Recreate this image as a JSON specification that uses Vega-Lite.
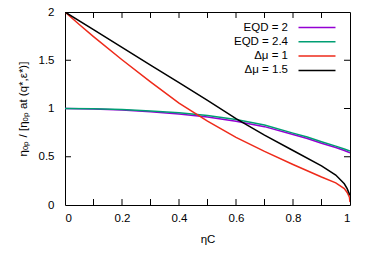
{
  "$schema": "https://vega.github.io/schema/vega-lite/v6.json",
  "width": 285,
  "height": 193,
  "autosize": {"type": "none"},
  "padding": {"left": 65, "top": 12, "right": 24, "bottom": 56},
  "background": "white",
  "config": {
    "view": {"stroke": "black", "strokeWidth": 1},
    "font": "Liberation Sans",
    "axis": {
      "grid": false,
      "domain": false,
      "ticks": true,
      "tickSize": 0,
      "labelFont": "Liberation Sans",
      "labelFontSize": 11.5,
      "labelColor": "black",
      "titleFont": "Liberation Sans",
      "titleFontSize": 11.5,
      "titleFontWeight": "normal",
      "titleColor": "black"
    }
  },
  "datasets": {
    "xt": [{"v": 0.1}, {"v": 0.2}, {"v": 0.3}, {"v": 0.4}, {"v": 0.5}, {"v": 0.6}, {"v": 0.7}, {"v": 0.8}, {"v": 0.9}],
    "yt": [{"v": 0.5}, {"v": 1.0}, {"v": 1.5}]
  },
  "data": {"values": [
    {"s": "EQD = 2", "x": 0, "y": 1.0},
    {"s": "EQD = 2", "x": 0.1, "y": 0.996},
    {"s": "EQD = 2", "x": 0.2, "y": 0.984},
    {"s": "EQD = 2", "x": 0.3, "y": 0.966},
    {"s": "EQD = 2", "x": 0.4, "y": 0.942},
    {"s": "EQD = 2", "x": 0.5, "y": 0.911},
    {"s": "EQD = 2", "x": 0.6, "y": 0.869},
    {"s": "EQD = 2", "x": 0.7, "y": 0.812},
    {"s": "EQD = 2", "x": 0.8, "y": 0.73},
    {"s": "EQD = 2", "x": 0.85, "y": 0.69},
    {"s": "EQD = 2", "x": 0.9, "y": 0.64},
    {"s": "EQD = 2", "x": 0.95, "y": 0.595},
    {"s": "EQD = 2", "x": 0.98, "y": 0.565},
    {"s": "EQD = 2", "x": 1, "y": 0.54},
    {"s": "EQD = 2.4", "x": 0, "y": 1.0},
    {"s": "EQD = 2.4", "x": 0.1, "y": 0.998},
    {"s": "EQD = 2.4", "x": 0.2, "y": 0.99},
    {"s": "EQD = 2.4", "x": 0.3, "y": 0.975},
    {"s": "EQD = 2.4", "x": 0.4, "y": 0.955},
    {"s": "EQD = 2.4", "x": 0.5, "y": 0.928},
    {"s": "EQD = 2.4", "x": 0.6, "y": 0.886},
    {"s": "EQD = 2.4", "x": 0.7, "y": 0.83},
    {"s": "EQD = 2.4", "x": 0.8, "y": 0.745},
    {"s": "EQD = 2.4", "x": 0.85, "y": 0.705},
    {"s": "EQD = 2.4", "x": 0.9, "y": 0.656},
    {"s": "EQD = 2.4", "x": 0.95, "y": 0.61},
    {"s": "EQD = 2.4", "x": 0.98, "y": 0.58},
    {"s": "EQD = 2.4", "x": 1, "y": 0.56},
    {"s": "Δμ = 1", "x": 0, "y": 2.0},
    {"s": "Δμ = 1", "x": 0.05, "y": 1.87},
    {"s": "Δμ = 1", "x": 0.1, "y": 1.745},
    {"s": "Δμ = 1", "x": 0.2, "y": 1.505},
    {"s": "Δμ = 1", "x": 0.3, "y": 1.275},
    {"s": "Δμ = 1", "x": 0.4, "y": 1.055},
    {"s": "Δμ = 1", "x": 0.5, "y": 0.87},
    {"s": "Δμ = 1", "x": 0.6, "y": 0.7},
    {"s": "Δμ = 1", "x": 0.7, "y": 0.555},
    {"s": "Δμ = 1", "x": 0.8, "y": 0.42},
    {"s": "Δμ = 1", "x": 0.9, "y": 0.29},
    {"s": "Δμ = 1", "x": 0.95, "y": 0.23},
    {"s": "Δμ = 1", "x": 0.98, "y": 0.17},
    {"s": "Δμ = 1", "x": 0.99, "y": 0.13},
    {"s": "Δμ = 1", "x": 0.998, "y": 0.08},
    {"s": "Δμ = 1", "x": 1, "y": 0.03},
    {"s": "Δμ = 1.5", "x": 0, "y": 2.0},
    {"s": "Δμ = 1.5", "x": 0.1, "y": 1.817},
    {"s": "Δμ = 1.5", "x": 0.2, "y": 1.634},
    {"s": "Δμ = 1.5", "x": 0.3, "y": 1.45},
    {"s": "Δμ = 1.5", "x": 0.4, "y": 1.267},
    {"s": "Δμ = 1.5", "x": 0.5, "y": 1.085},
    {"s": "Δμ = 1.5", "x": 0.6, "y": 0.895},
    {"s": "Δμ = 1.5", "x": 0.7, "y": 0.725},
    {"s": "Δμ = 1.5", "x": 0.8, "y": 0.565},
    {"s": "Δμ = 1.5", "x": 0.9, "y": 0.405},
    {"s": "Δμ = 1.5", "x": 0.95, "y": 0.31},
    {"s": "Δμ = 1.5", "x": 0.98, "y": 0.22},
    {"s": "Δμ = 1.5", "x": 0.99, "y": 0.17},
    {"s": "Δμ = 1.5", "x": 1, "y": 0.1}
  ]},
  "layer": [
    {
      "data": {"name": "xt"},
      "mark": {"type": "rule", "color": "black", "strokeWidth": 1},
      "encoding": {
        "x": {"field": "v", "type": "quantitative", "title": "ηC"},
        "y": {"datum": 0, "type": "quantitative"},
        "y2": {"datum": 0.062}
      }
    },
    {
      "data": {"name": "xt"},
      "mark": {"type": "rule", "color": "black", "strokeWidth": 1},
      "encoding": {
        "x": {"field": "v", "type": "quantitative", "title": "ηC"},
        "y": {"datum": 2, "type": "quantitative"},
        "y2": {"datum": 1.938}
      }
    },
    {
      "data": {"name": "yt"},
      "mark": {"type": "rule", "color": "black", "strokeWidth": 1},
      "encoding": {
        "y": {"field": "v", "type": "quantitative", "title": "ηₒₚ / [ηₒₚ at (q*,ε*)]"},
        "x": {"datum": 0, "type": "quantitative"},
        "x2": {"datum": 0.021}
      }
    },
    {
      "data": {"name": "yt"},
      "mark": {"type": "rule", "color": "black", "strokeWidth": 1},
      "encoding": {
        "y": {"field": "v", "type": "quantitative", "title": "ηₒₚ / [ηₒₚ at (q*,ε*)]"},
        "x": {"datum": 1, "type": "quantitative"},
        "x2": {"datum": 0.979}
      }
    },
    {
      "mark": {"type": "line", "strokeWidth": 1.5, "clip": true},
      "encoding": {
        "x": {"field": "x", "type": "quantitative", "title": "ηC", "scale": {"domain": [0, 1], "nice": false},
              "axis": {"orient": "bottom", "values": [0,0.1,0.2,0.3,0.4,0.5,0.6,0.7,0.8,0.9,1], "format": "~g", "labelPadding": 7, "titlePadding": 10}},
        "y": {"field": "y", "type": "quantitative", "title": "ηₒₚ / [ηₒₚ at (q*,ε*)]", "scale": {"domain": [0, 2], "nice": false},
              "axis": {"orient": "left", "values": [0,0.5,1,1.5,2], "format": "~g", "labelPadding": 11, "titlePadding": 10}},
        "color": {"field": "s", "type": "nominal",
                  "scale": {"domain": ["EQD = 2", "EQD = 2.4", "Δμ = 1", "Δμ = 1.5"], "range": ["#9400d3", "#009e73", "#ee2a1a", "#000000"]},
                  "legend": {"title": null, "orient": "none", "legendX": 245, "legendY": 8.5, "symbolType": "M-3,0H3", "symbolSize": 152, "symbolStrokeWidth": 1.5,
                             "labelAlign": "right", "labelOffset": -36, "labelFontSize": 11.5, "labelFont": "Liberation Sans", "labelColor": "black", "rowPadding": 1.3}}
      }
    }
  ]
}
